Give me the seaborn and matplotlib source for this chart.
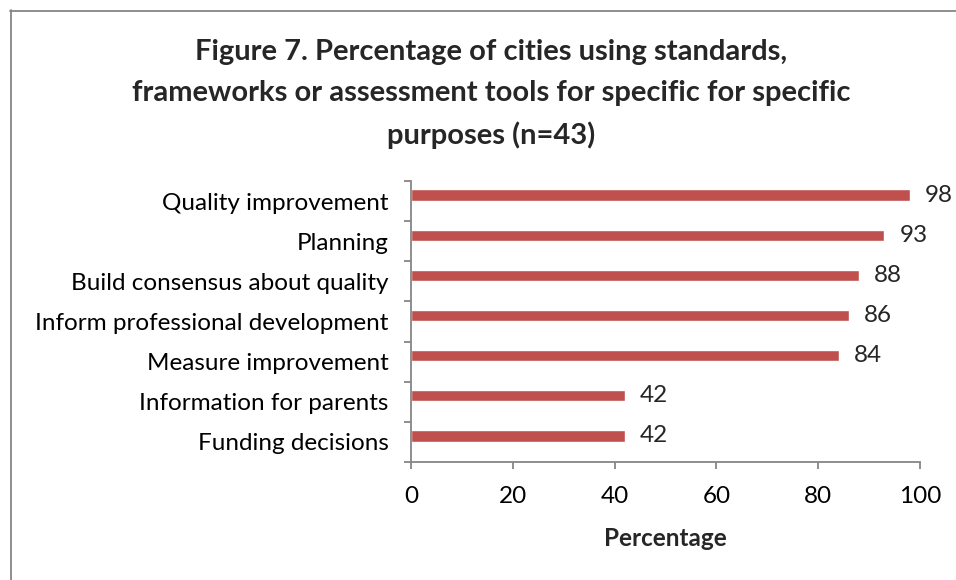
import matplotlib
matplotlib.use("Agg")
import matplotlib.pyplot as plt
import seaborn as sns
import pandas as pd
from matplotlib.lines import Line2D
from matplotlib.ticker import FixedLocator

categories = ["Quality improvement", "Planning", "Build consensus about quality",
              "Inform professional development", "Measure improvement",
              "Information for parents", "Funding decisions"]
values = [98, 93, 88, 86, 84, 42, 42]
xticks = [0, 20, 40, 60, 80, 100]

sns.set_theme(style="white")
plt.rcParams['font.family'] = ['Lato', 'DejaVu Sans']

df = pd.DataFrame({"category": categories, "value": values})

fig = plt.figure(figsize=(9.56, 5.8), dpi=100)
ax = fig.add_axes([411/956, 1-462/580, (920-411)/956, (462-181)/580])

sns.barplot(data=df, x="value", y="category", color="#C0504D", width=0.28,
            saturation=1, ax=ax, orient="h")

# Excel-style offset of the bar within its category band
bar_shift = -0.15
for p in ax.patches:
    p.set_y(p.get_y() + bar_shift)

ax.set_xlim(0, 100)
ax.set_ylim(len(categories)-0.5, -0.5)
ax.set_xticks(xticks)
ax.set_xticklabels([str(t) for t in xticks])

spine_c = "#868686"
for s in ["top", "right"]:
    ax.spines[s].set_visible(False)
for s in ["left", "bottom"]:
    ax.spines[s].set_color(spine_c)
    ax.spines[s].set_linewidth(1.3)

ax.yaxis.set_minor_locator(FixedLocator([i - 0.5 for i in range(len(categories)+1)]))
ax.tick_params(axis="y", which="major", length=0, pad=16, labelsize=17.5, labelcolor="black")
ax.tick_params(axis="y", which="minor", length=5, width=1.3, color=spine_c, left=True)
ax.tick_params(axis="x", which="major", length=5, width=1.3, color=spine_c, bottom=True,
               pad=12, labelsize=17.5, labelcolor="black")

ax.set_ylabel("")
ax.set_xlabel("Percentage", fontsize=17.5, fontweight="bold", labelpad=15)

for i, v in enumerate(values):
    ax.annotate(str(v), xy=(v, i + bar_shift), xytext=(11, 0), textcoords="offset points",
                va="center", ha="left", fontsize=17.5)

fig.text(491/956, 1-39/580,
         "Figure 7. Percentage of cities using standards,\nframeworks or assessment tools for specific for specific\npurposes (n=43)",
         ha="center", va="top", fontsize=21, fontweight="bold", linespacing=1.7)

fig.add_artist(Line2D([10/956, 1], [1-10.5/580, 1-10.5/580], color=spine_c, lw=1.3,
                      transform=fig.transFigure))
fig.add_artist(Line2D([10.5/956, 10.5/956], [0, 1-10/580], color=spine_c, lw=1.3,
                      transform=fig.transFigure))

fig.savefig("out.png", dpi=100, facecolor="white")
